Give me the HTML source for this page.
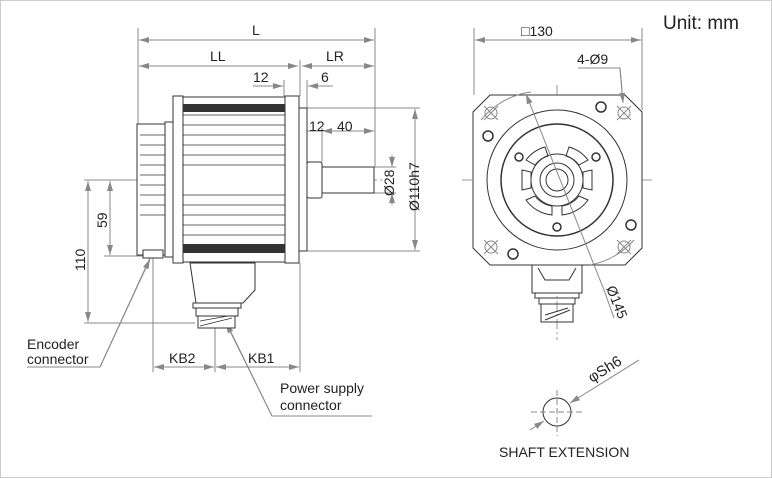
<!DOCTYPE html>
<html><head><meta charset="utf-8"><style>
html,body{margin:0;padding:0;background:#fff}
svg{display:block}
text{font-family:"Liberation Sans",sans-serif;fill:#222}
</style></head><body>
<svg width="772" height="478" viewBox="0 0 772 478" xmlns="http://www.w3.org/2000/svg">
<defs>
<marker id="a" viewBox="0 0 10 6" refX="10" refY="3" markerWidth="10" markerHeight="6" orient="auto-start-reverse" markerUnits="userSpaceOnUse"><path d="M0,0L10,3L0,6z" fill="#888"/></marker>
</defs>
<rect x="0.5" y="0.5" width="771" height="477" fill="#fff" stroke="#ccc"/>
<text x="663" y="29" font-size="19">Unit: mm</text>

<!-- dimension lines (grey) -->
<g stroke="#888" stroke-width="1" fill="none">
<line x1="138" y1="28" x2="138" y2="125"/>
<line x1="375" y1="28" x2="375" y2="167"/>
<line x1="300" y1="60" x2="300" y2="96"/>
<line x1="139" y1="40" x2="374" y2="40" marker-start="url(#a)" marker-end="url(#a)"/>
<line x1="139" y1="66" x2="298" y2="66" marker-start="url(#a)" marker-end="url(#a)"/>
<line x1="302" y1="66" x2="374" y2="66" marker-start="url(#a)" marker-end="url(#a)"/>
<line x1="253" y1="86" x2="283" y2="86" marker-end="url(#a)"/>
<line x1="333" y1="86" x2="308" y2="86" marker-end="url(#a)"/>
<line x1="284" y1="80" x2="284" y2="96"/>
<line x1="307" y1="80" x2="307" y2="108"/>
<line x1="300" y1="131" x2="322" y2="131"/>
<line x1="322" y1="131" x2="374" y2="131" marker-start="url(#a)" marker-end="url(#a)"/>
<line x1="322" y1="128" x2="322" y2="162"/>
<line x1="374" y1="167" x2="396" y2="167"/>
<line x1="374" y1="193" x2="396" y2="193"/>
<line x1="307" y1="108" x2="420" y2="108"/>
<line x1="307" y1="251" x2="420" y2="251"/>
<line x1="392" y1="155" x2="392" y2="167" marker-end="url(#a)"/>
<line x1="392" y1="205" x2="392" y2="193" marker-end="url(#a)"/>
<line x1="415" y1="109" x2="415" y2="250" marker-start="url(#a)" marker-end="url(#a)"/>
<line x1="84" y1="180" x2="135" y2="180"/>
<line x1="104" y1="256" x2="150" y2="256"/>
<line x1="84" y1="323" x2="195" y2="323"/>
<line x1="110" y1="181" x2="110" y2="255" marker-start="url(#a)" marker-end="url(#a)"/>
<line x1="88" y1="181" x2="88" y2="322" marker-start="url(#a)" marker-end="url(#a)"/>
<line x1="153" y1="258" x2="153" y2="372"/>
<line x1="215" y1="262" x2="215" y2="372"/>
<line x1="300" y1="263" x2="300" y2="372"/>
<line x1="154" y1="367" x2="214" y2="367" marker-start="url(#a)" marker-end="url(#a)"/>
<line x1="216" y1="367" x2="299" y2="367" marker-start="url(#a)" marker-end="url(#a)"/>
<polyline points="27,367 100,367 150,258" />
<line x1="100" y1="367" x2="150" y2="259" marker-end="url(#a)"/>
<polyline points="372,416 272,416 226,322"/>
<line x1="272" y1="416" x2="226" y2="323" marker-end="url(#a)"/>
</g>
<g stroke="#999" stroke-dasharray="10,3,2,3" fill="none">
<line x1="133" y1="180" x2="382" y2="180"/>
<line x1="462" y1="180" x2="654" y2="180"/>
<line x1="557" y1="85" x2="557" y2="340"/>
</g>

<!-- left motor -->
<g stroke="#333" stroke-width="1" fill="#fff">
<rect x="137" y="124" width="36" height="131"/>
<rect x="165" y="122" width="8" height="135"/>
<rect x="173" y="96" width="10" height="167"/>
<rect x="183" y="97" width="102" height="165"/>
<rect x="285" y="96" width="14" height="167"/>
<rect x="299" y="108" width="8" height="143"/>
<rect x="307" y="162" width="15" height="36" rx="2"/>
<rect x="322" y="167" width="52" height="26"/>
<path d="M190 263 H255 V290 L243 303 H196 Z"/>
<rect x="193" y="303" width="48" height="5"/>
<rect x="196" y="308" width="42" height="8"/>
<rect x="198" y="316" width="37" height="12"/>
<rect x="143" y="250" width="20" height="8"/>
</g>
<g stroke="#333" stroke-width="0.8">
<line x1="140" y1="135" x2="165" y2="135"/><line x1="140" y1="145" x2="165" y2="145"/><line x1="140" y1="155" x2="165" y2="155"/><line x1="140" y1="165" x2="165" y2="165"/><line x1="140" y1="175" x2="165" y2="175"/><line x1="140" y1="185" x2="165" y2="185"/><line x1="140" y1="195" x2="165" y2="195"/><line x1="140" y1="205" x2="165" y2="205"/><line x1="140" y1="215" x2="165" y2="215"/>
<line x1="183" y1="115" x2="285" y2="115"/><line x1="183" y1="125" x2="285" y2="125"/><line x1="183" y1="135" x2="285" y2="135"/><line x1="183" y1="145" x2="285" y2="145"/><line x1="183" y1="155" x2="285" y2="155"/><line x1="183" y1="165" x2="285" y2="165"/><line x1="183" y1="195" x2="285" y2="195"/><line x1="183" y1="205" x2="285" y2="205"/><line x1="183" y1="215" x2="285" y2="215"/><line x1="183" y1="225" x2="285" y2="225"/><line x1="183" y1="235" x2="285" y2="235"/>
<line x1="200" y1="326" x2="232" y2="318"/><line x1="200" y1="321" x2="228" y2="316"/>
</g>
<rect x="183" y="104" width="102" height="8" fill="#333"/>
<rect x="183" y="244" width="102" height="9" fill="#333"/>

<!-- right view -->
<g stroke="#333" stroke-width="1" fill="none">
<path d="M490 95 H625 L642 112 V248 L625 265 H490 L473 248 V112 Z" fill="#fff"/>
<circle cx="557" cy="180" r="70"/>
<circle cx="557" cy="180" r="56" stroke-width="1.5"/>
<circle cx="557" cy="180" r="26"/>
<circle cx="557" cy="180" r="17"/>
<circle cx="557" cy="180" r="11"/>
<path d="M526 160 A36 36 0 0 1 545 147 L548 156 A26 26 0 0 0 535 165 Z"/>
<path d="M569 147 A36 36 0 0 1 588 160 L579 165 A26 26 0 0 0 566 156 Z"/>
<path d="M522 170 V190 L531 188 V172 Z"/>
<path d="M592 170 V190 L583 188 V172 Z"/>
<path d="M526 200 A36 36 0 0 0 552 215 L552 206 A26 26 0 0 1 535 196 Z"/>
<path d="M588 200 A36 36 0 0 1 562 215 L562 206 A26 26 0 0 0 579 196 Z"/>
<path d="M532 265 H582 V293 H532 Z" fill="#fff"/>
<path d="M538 268 L545 280 H569 L576 268"/>
<rect x="535" y="293" width="44" height="5"/>
<rect x="539" y="298" width="36" height="6"/>
<rect x="541" y="304" width="32" height="18"/>
<path d="M545 320 L570 310 M545 315 L568 308"/>
</g>
<g stroke="#333" fill="#fff" stroke-width="1.5">
<circle cx="488" cy="136" r="5"/><circle cx="601" cy="107" r="5"/><circle cx="631" cy="225" r="5"/><circle cx="513" cy="254" r="5"/>
<circle cx="519" cy="157" r="4"/><circle cx="596" cy="157" r="4"/><circle cx="557" cy="227" r="4"/>
</g>
<g stroke="#888" fill="none">
<circle cx="491" cy="113" r="6"/><circle cx="624" cy="113" r="6"/><circle cx="491" cy="247" r="6"/><circle cx="624" cy="247" r="6"/>
<path d="M484 106 L498 120 M498 106 L484 120 M617 106 L631 120 M631 106 L617 120 M484 240 L498 254 M498 240 L484 254 M617 240 L631 254 M631 240 L617 254"/>
<path d="M481 120 A77 77 0 0 1 531 92"/>
<path d="M634 240 A77 77 0 0 1 590 265"/>
<line x1="526" y1="94" x2="604" y2="290" marker-start="url(#a)"/>
<line x1="604" y1="290" x2="614" y2="318"/>
<line x1="474" y1="28" x2="474" y2="95"/><line x1="642" y1="28" x2="642" y2="110"/>
<line x1="475" y1="40" x2="641" y2="40" marker-start="url(#a)" marker-end="url(#a)"/>
<polyline points="578,68 620,68 623,103"/>
<line x1="620" y1="68" x2="623" y2="103" marker-end="url(#a)"/>
<circle cx="557" cy="412" r="14" stroke="#333"/>
<path d="M557 390 V436 M531 412 H583" stroke-dasharray="6,3"/>
<line x1="639" y1="360" x2="570" y2="403" marker-end="url(#a)"/>
<line x1="530" y1="430" x2="544" y2="421" marker-end="url(#a)"/>
</g>
<text x="606" y="288" font-size="14" transform="rotate(68 606 288)">Ø145</text>

<!-- texts -->
<g font-size="14">
<text x="252" y="35">L</text>
<text x="210" y="61">LL</text>
<text x="326" y="61">LR</text>
<text x="253" y="82">12</text>
<text x="321" y="82">6</text>
<text x="309" y="131">12</text>
<text x="337" y="131">40</text>
<text x="521" y="36">□130</text>
<text x="577" y="64">4-Ø9</text>
<text x="27" y="349">Encoder</text>
<text x="27" y="364">connector</text>
<text x="169" y="363">KB2</text>
<text x="248" y="363">KB1</text>
<text x="280" y="393">Power supply</text>
<text x="280" y="410">connector</text>
<text x="499" y="457">SHAFT EXTENSION</text>
</g>
<text x="394" y="196" font-size="14" transform="rotate(-90 394 196)">Ø28</text>
<text x="419" y="211" font-size="14" transform="rotate(-90 419 211)">Ø110h7</text>
<text x="107" y="228" font-size="14" transform="rotate(-90 107 228)">59</text>
<text x="85" y="271" font-size="14" transform="rotate(-90 85 271)">110</text>
<text x="592" y="383" font-size="15" transform="rotate(-32 592 383)">φSh6</text>
</svg>
</body></html>
